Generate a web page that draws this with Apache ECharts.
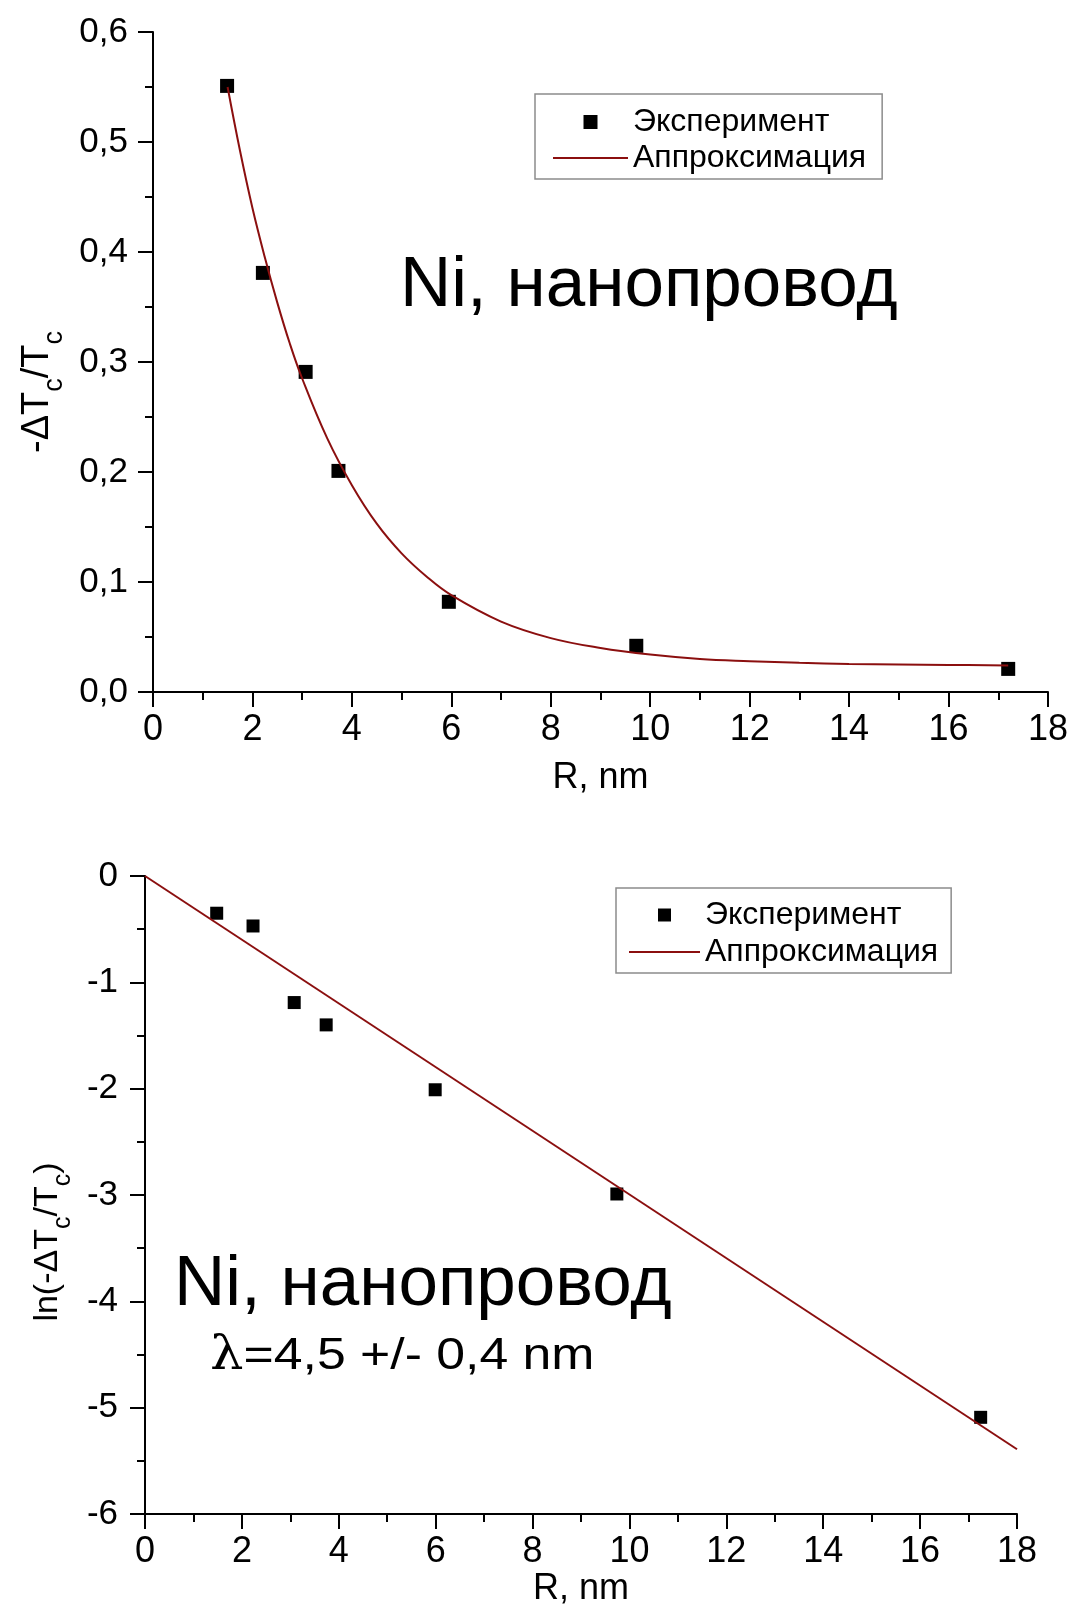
<!DOCTYPE html>
<html>
<head>
<meta charset="utf-8">
<script src="https://cdn.jsdelivr.net/npm/echarts@6/dist/echarts.min.js"></script>
<style>
html,body{margin:0;padding:0;background:#fff;}
#chart{width:1071px;height:1608px;}
</style>
</head>
<body>
<div id="chart"></div>
<script>
// ---- Top panel: -dTc/Tc vs R ----
const expR_top = [1.49, 2.21, 3.07, 3.73, 5.95, 9.72, 17.2];
const expY_top = [0.551, 0.381, 0.291, 0.201, 0.082, 0.042, 0.021];
const fitR_top = [1.5, 1.75, 2, 2.25, 2.5, 2.75, 3, 3.5, 4, 4.5, 5, 5.5, 6, 7, 8, 9, 10, 11, 12, 13, 14, 15, 16, 17.2];
const fitY_top = [0.550, 0.492, 0.440, 0.395, 0.354, 0.317, 0.285, 0.231, 0.188, 0.153, 0.126, 0.105, 0.088, 0.064, 0.049, 0.040, 0.034, 0.030, 0.028, 0.0265, 0.0255, 0.025, 0.0246, 0.0242];
const xTicksTop = ['0','2','4','6','8','10','12','14','16','18'];
const yTicksTop = ['0,0','0,1','0,2','0,3','0,4','0,5','0,6'];

// ---- Bottom panel: ln(-dTc/Tc) vs R ----
const expR_bot = [1.48, 2.23, 3.08, 3.74, 5.99, 9.74, 17.25];
const expY_bot = [-0.35, -0.47, -1.19, -1.40, -2.01, -2.99, -5.09];
const fitR_bot = [0, 18];
const fitY_bot = [0, -5.39];
const xTicksBot = ['0','2','4','6','8','10','12','14','16','18'];
const yTicksBot = ['-6','-5','-4','-3','-2','-1','0'];

const seriesNames = ['Эксперимент', 'Аппроксимация'];
const panelLabel = 'Ni, нанопровод';
const lambdaLabel = '{l|λ}=4,5 +/- 0,4 nm';

const FONT = 'Liberation Sans, Arial, sans-serif';
const FIT_COLOR = '#8b0f0f';
const SQUARE_ICON = 'path://M0,0L10,0L10,10L0,10Z';
const LINE_ICON = 'path://M0,0L150,0L150,4L0,4Z';

function pairs(xs, ys){ return xs.map((x,i)=>[x, ys[i]]); }

function axisCommon(fontSize, margin, labels){
  return {
    type: 'value',
    axisLine: {show: true, onZero: false, lineStyle: {color: '#000', width: 2}},
    axisTick: {show: true, length: 15, lineStyle: {color: '#000', width: 2}},
    minorTick: {show: true, splitNumber: 2, length: 8, lineStyle: {color: '#000', width: 2}},
    splitLine: {show: false},
    minorSplitLine: {show: false},
    axisLabel: {
      fontSize: fontSize, color: '#000', fontFamily: FONT, margin: margin,
      formatter: function(v, i){ return labels[i] !== undefined ? labels[i] : String(v); }
    }
  };
}

const chart = echarts.init(document.getElementById('chart'), null, {renderer: 'canvas'});

const option = {
  backgroundColor: '#fff',
  animation: false,
  grid: [
    {left: 153, right: 22, top: 32, height: 660},
    {left: 145, right: 54, top: 876, height: 641}
  ],
  xAxis: [
    Object.assign(axisCommon(36, 20, xTicksTop), {
      gridIndex: 0, min: 0, max: 18, interval: 2,
      name: 'R, nm', nameLocation: 'middle', nameGap: 68,
      nameTextStyle: {fontSize: 36, color: '#000', fontFamily: FONT}
    }),
    Object.assign(axisCommon(36, 20, xTicksBot), {
      gridIndex: 1, min: 0, max: 18, interval: 2,
      name: 'R, nm', nameLocation: 'middle', nameGap: 56,
      nameTextStyle: {fontSize: 36, color: '#000', fontFamily: FONT}
    })
  ],
  yAxis: [
    Object.assign(axisCommon(35, 25, yTicksTop), {
      gridIndex: 0, min: 0, max: 0.6, interval: 0.1,
      name: '{m|-ΔT}{s|c}{m|/T}{s|c}', nameLocation: 'middle', nameGap: 93, nameRotate: 90,
      nameTextStyle: {
        fontSize: 38, color: '#000', fontFamily: FONT, padding: [0, 60, 0, 0],
        rich: {
          m: {fontSize: 38, fontFamily: FONT, color: '#000', verticalAlign: 'top', lineHeight: 38},
          s: {fontSize: 27, fontFamily: FONT, color: '#000', verticalAlign: 'top', lineHeight: 27, padding: [23, 0, 0, 0]}
        }
      }
    }),
    Object.assign(axisCommon(35, 27, yTicksBot), {
      gridIndex: 1, min: -6, max: 0, interval: 1,
      name: '{m|ln(-ΔT}{s|c}{m|/T}{s|c}{m|)}', nameLocation: 'middle', nameGap: 54, nameRotate: 90,
      nameTextStyle: {
        fontSize: 34, color: '#000', fontFamily: FONT, padding: [0, 94, 0, 0],
        rich: {
          m: {fontSize: 34, fontFamily: FONT, color: '#000', verticalAlign: 'top', lineHeight: 34},
          s: {fontSize: 25, fontFamily: FONT, color: '#000', verticalAlign: 'top', lineHeight: 25, padding: [20, 0, 0, 0]}
        }
      }
    })
  ],
  legend: [
    {
      left: 535, top: 94, orient: 'vertical',
      itemWidth: 75, itemHeight: 14, itemGap: 4,
      padding: [12, 16, 5, 18],
      borderColor: '#8c8c8c', borderWidth: 1.5, backgroundColor: '#fff',
      textStyle: {fontSize: 32, color: '#000', fontFamily: FONT},
      data: [
        {name: seriesNames[0], icon: SQUARE_ICON},
        {name: seriesNames[1], icon: LINE_ICON}
      ]
    },
    {
      left: 616, top: 888, orient: 'vertical',
      itemWidth: 71, itemHeight: 13, itemGap: 5,
      padding: [11, 13, 5, 13],
      borderColor: '#8c8c8c', borderWidth: 1.5, backgroundColor: '#fff',
      textStyle: {fontSize: 32, color: '#000', fontFamily: FONT},
      data: [
        {name: seriesNames[0], icon: SQUARE_ICON},
        {name: seriesNames[1], icon: LINE_ICON}
      ]
    }
  ],
  graphic: [
    {type: 'text', x: 400, y: 286, style: {text: panelLabel, fontSize: 71, fontFamily: FONT, fill: '#000', align: 'left', verticalAlign: 'middle'}},
    {type: 'text', x: 174, y: 1285, style: {text: panelLabel, fontSize: 71, fontFamily: FONT, fill: '#000', align: 'left', verticalAlign: 'middle'}},
    {type: 'text', x: 210, y: 1357, scaleX: 1.15, style: {text: lambdaLabel, fontSize: 45, fontFamily: FONT, fill: '#000', align: 'left', verticalAlign: 'middle',
      rich: {l: {fontSize: 46, fontFamily: 'DejaVu Serif, serif', fill: '#000'}}}}
  ],
  series: [
    {
      name: seriesNames[0], type: 'scatter', xAxisIndex: 0, yAxisIndex: 0,
      symbol: 'rect', symbolSize: 14, itemStyle: {color: '#000', opacity: 1}, z: 2,
      data: pairs(expR_top, expY_top)
    },
    {
      name: seriesNames[1], type: 'line', xAxisIndex: 0, yAxisIndex: 0,
      smooth: 0.4, symbol: 'none', showSymbol: false, z: 3,
      lineStyle: {color: FIT_COLOR, width: 2}, itemStyle: {color: FIT_COLOR},
      data: pairs(fitR_top, fitY_top)
    },
    {
      name: seriesNames[0], type: 'scatter', xAxisIndex: 1, yAxisIndex: 1,
      symbol: 'rect', symbolSize: 13, itemStyle: {color: '#000', opacity: 1}, z: 2,
      data: pairs(expR_bot, expY_bot)
    },
    {
      name: seriesNames[1], type: 'line', xAxisIndex: 1, yAxisIndex: 1,
      symbol: 'none', showSymbol: false, z: 3,
      lineStyle: {color: FIT_COLOR, width: 2}, itemStyle: {color: FIT_COLOR},
      data: pairs(fitR_bot, fitY_bot)
    }
  ]
};
chart.setOption(option);
</script>
</body>
</html>
